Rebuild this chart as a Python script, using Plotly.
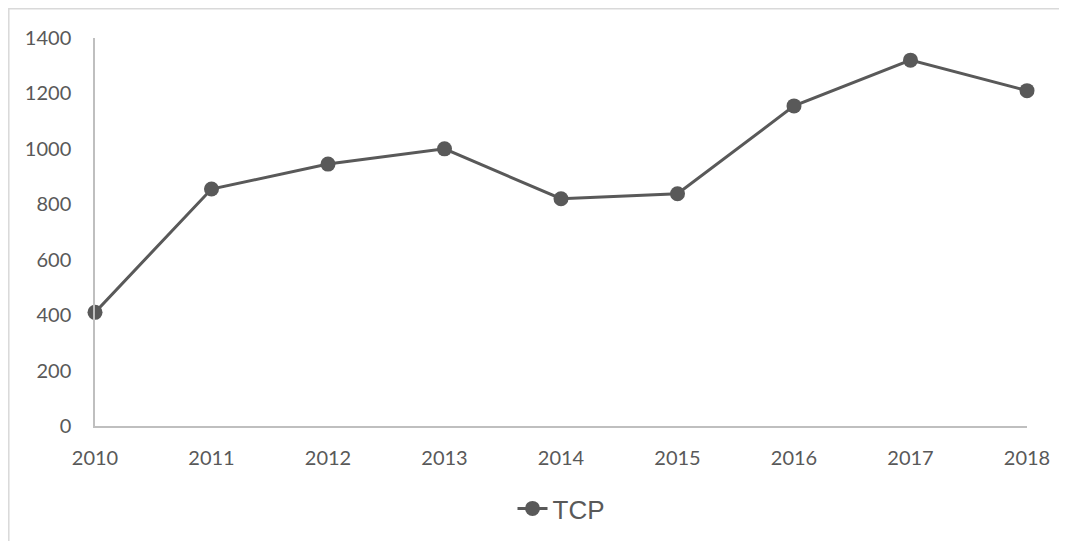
import plotly.graph_objects as go

years = [2010, 2011, 2012, 2013, 2014, 2015, 2016, 2017, 2018]
tcp = [410, 855, 945, 1000, 820, 838, 1155, 1320, 1210]
y_ticks = [0, 200, 400, 600, 800, 1000, 1200, 1400]

GREY = "#595959"
AXIS = "#bfbfbf"

fig = go.Figure()
fig.add_trace(go.Scatter(
    x=years, y=tcp, name="TCP", mode="lines+markers",
    line=dict(color=GREY, width=3),
    marker=dict(color=GREY, size=15),
    cliponaxis=False,
))

# light chart-area frame, cut off at the right and bottom like the source
fig.add_shape(type="rect", xref="paper", yref="paper",
              x0=-0.0925, x1=1.2, y0=-0.4, y1=1.0754,
              line=dict(color="#d9d9d9", width=1.5), layer="below")

# the page adds an 8px body margin, margins below are shifted for that
fig.update_layout(
    width=1067, height=541,
    margin=dict(l=87, r=48, t=30, b=123),
    paper_bgcolor="white", plot_bgcolor="white",
    font=dict(family="Lato, Open Sans, sans-serif", color=GREY, size=20),
    showlegend=True,
    legend=dict(orientation="h", x=0.5, xanchor="center", y=-0.152, yanchor="top",
                font=dict(family="Liberation Sans, Arial, sans-serif", size=26, color=GREY)),
    xaxis=dict(range=[2010, 2018], tickvals=years, ticktext=[str(y) for y in years],
               showgrid=False, zeroline=False, showline=True, linecolor=AXIS, linewidth=1.5,
               ticks="", ticklabelstandoff=13),
    yaxis=dict(range=[0, 1400], tickvals=y_ticks, showgrid=False, zeroline=False,
               showline=True, linecolor=AXIS, linewidth=1.5, ticks="", ticklabelstandoff=18),
)

fig.write_html("out.html")
